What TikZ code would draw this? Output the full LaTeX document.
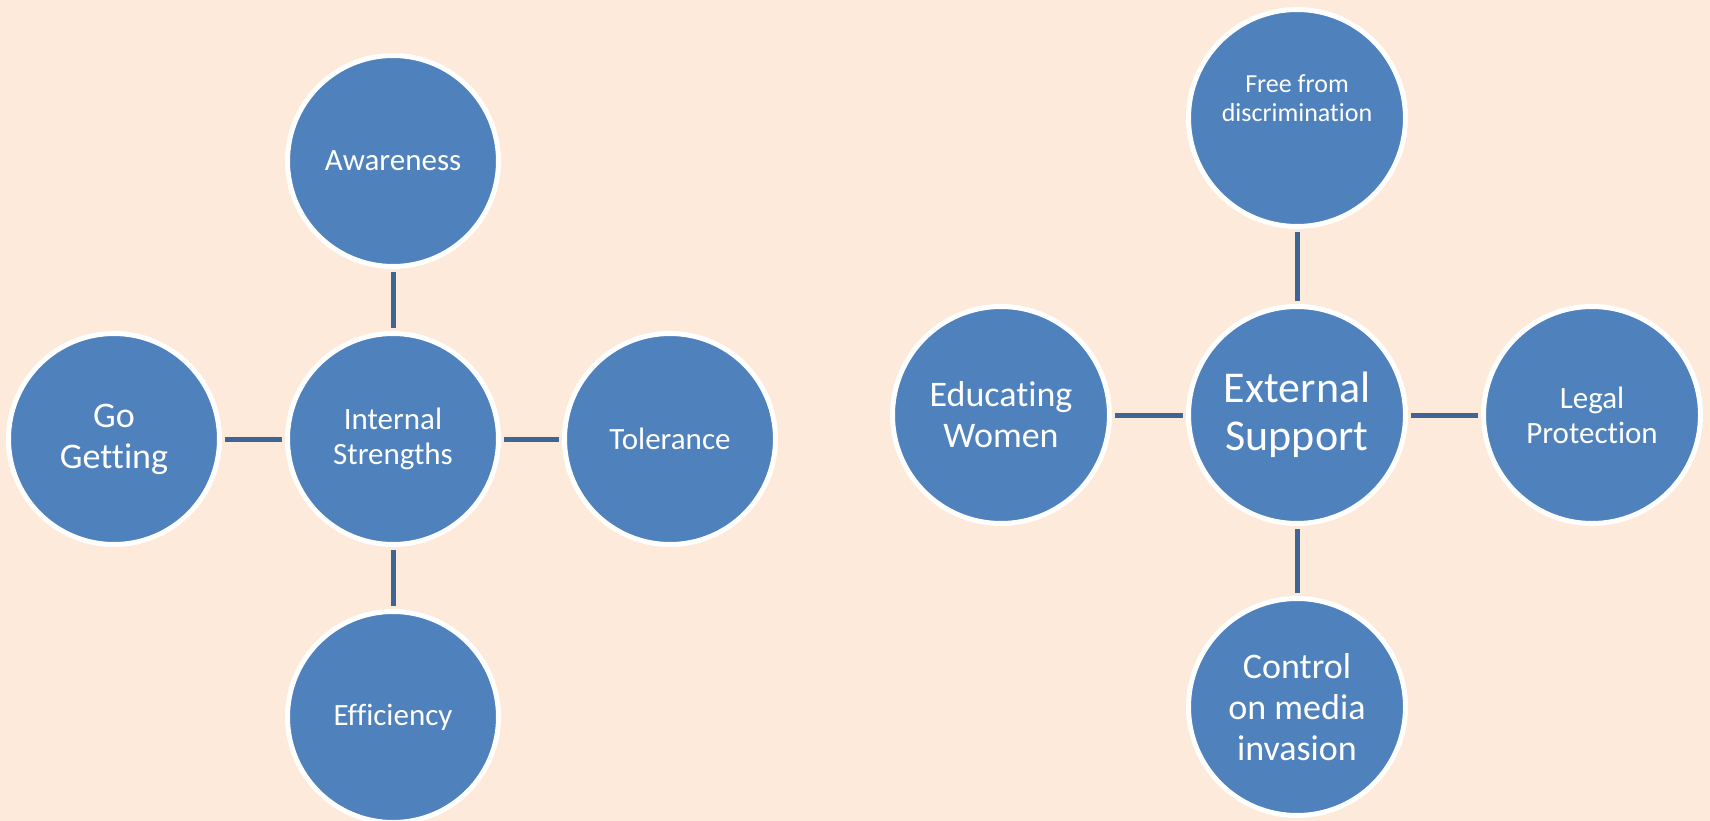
\documentclass[tikz,border=0pt]{standalone}
\usepackage{fontspec}
\setmainfont{Carlito}[Ligatures=NoCommon]
\definecolor{bg}{HTML}{FDEADA}
\definecolor{cfill}{HTML}{4F81BD}
\definecolor{conncol}{HTML}{3F6596}
\tikzset{
  smallc/.style={circle, fill=cfill, draw=white, line width=5pt, minimum size=211pt, inner sep=0pt, text=white, align=center},
  bigc/.style={circle, fill=cfill, draw=white, line width=5pt, minimum size=217pt, inner sep=0pt, text=white, align=center},
  conn/.style={draw=conncol, line width=5pt, shorten <=3pt, shorten >=3pt},
  fa/.style={font=\fontsize{31}{35}\selectfont},
  fb/.style={font=\fontsize{36}{41}\selectfont},
  fc/.style={font=\fontsize{26}{29}\selectfont},
  fd/.style={font=\fontsize{44}{48}\selectfont},
}
\begin{document}
\begin{tikzpicture}[x=1pt,y=-1pt]
\path[use as bounding box, fill=bg] (0,0) rectangle (1710,821);
\clip (0,0) rectangle (1710,821);
% left group
\node[smallc, fa] (is) at (393,439) {Internal\\Strengths};
\node[smallc, fa] (aw) at (393,161) {Awareness};
\node[smallc, fa] (eff) at (393,717) {Efficiency};
\node[smallc, fb] (gg) at (114,439) {Go\\Getting};
\node[smallc, fa] (tol) at (670,439) {Tolerance};
\draw[conn] (aw) -- (is);
\draw[conn] (is) -- (eff);
\draw[conn] (gg) -- (is);
\draw[conn] (is) -- (tol);
% right group
\node[bigc, fd] (es) at (1297,415) {External\\Support};
\node[bigc, label={[fc, text=white, align=center, yshift=20pt]center:{Free from\\discrimination}}] (free) at (1297,118) {};
\node[bigc, fb] (ctrl) at (1297,707) {Control\\on media\\invasion};
\node[bigc, fb] (edu) at (1001,415) {Educating\\Women};
\node[bigc, fa] (legal) at (1592,415) {Legal\\Protection};
\draw[conn] (free) -- (es);
\draw[conn] (es) -- (ctrl);
\draw[conn] (edu) -- (es);
\draw[conn] (es) -- (legal);
\end{tikzpicture}
\end{document}
